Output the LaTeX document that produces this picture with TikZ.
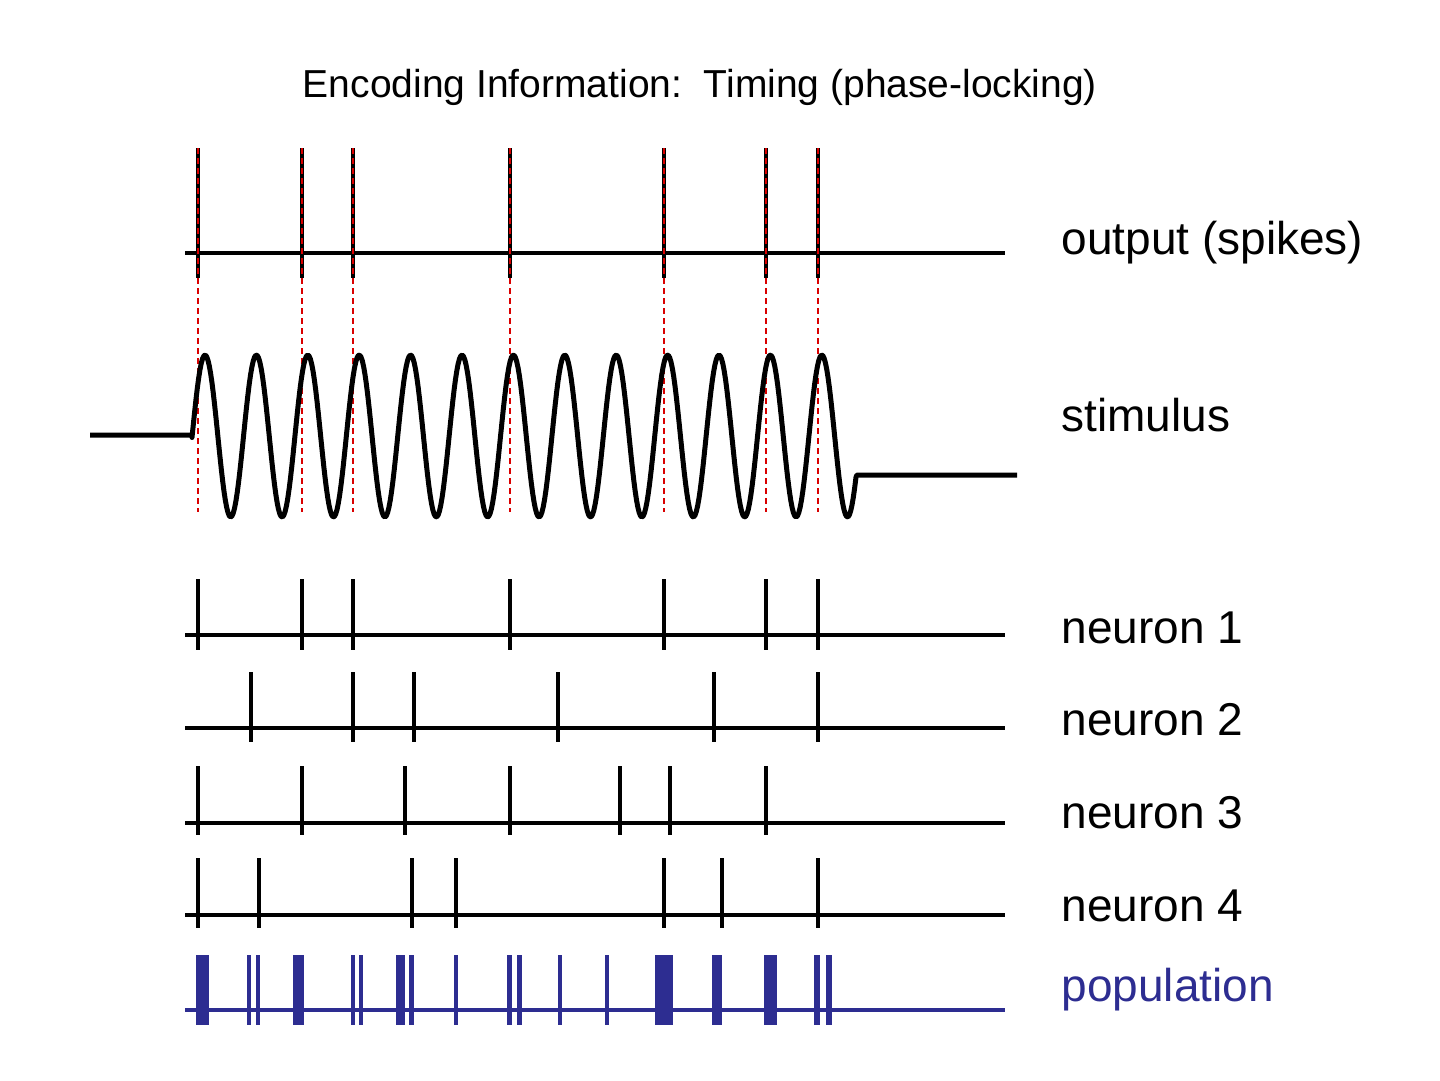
\documentclass[tikz,border=0pt]{standalone}
\usepackage{fontspec}
\setmainfont{Liberation Sans}
\begin{document}
\begin{tikzpicture}[x=1pt,y=-1pt,
  base/.style={line width=4pt},
  spk/.style={line width=3.5pt},
  reddash/.style={red!85!black,line width=2.2pt,dash pattern=on 6pt off 4pt},
  lbl/.style={anchor=west,font=\fontsize{46}{48}\selectfont},
  pop/.style={draw=popblue,fill=popblue,line width=1pt}]
\definecolor{popblue}{RGB}{45,45,145}
\useasboundingbox (0,0) rectangle (1440,1080);
\node[font=\fontsize{39}{41}\selectfont] (title) at (700,87) {Encoding Information:\ \ Timing (phase-locking)};
% output
\draw[base] (185,253) -- (1005,253);
\foreach \x in {198,302,353,510,664,766,818}{
  \draw[spk] (\x,148) -- (\x,278);
  \draw[reddash] (\x,148) -- (\x,512);
}
\node[lbl] (lout) at (1058,243) {output (spikes)};
% stimulus
\draw[line width=5pt,line join=round] (90,435) -- (192,435) -- plot[domain=192:856,samples=500] (\x,{436-81*cos(7.0039*(\x-205))}) -- (857,475) -- (1017,475);
\node[lbl] (lstim) at (1058,415) {stimulus};
% neurons
\draw[base] (185,635) -- (1005,635);
\foreach \x in {198,302,353,510,664,766,818} \draw[spk] (\x,579) -- (\x,650);
\node[lbl] (n1) at (1058,628) {neuron 1};
\draw[base] (185,728) -- (1005,728);
\foreach \x in {251,353,414,558,714,818} \draw[spk] (\x,672) -- (\x,742);
\node[lbl] (n2) at (1058,720) {neuron 2};
\draw[base] (185,823) -- (1005,823);
\foreach \x in {198,302,405,510,620,670,766} \draw[spk] (\x,766) -- (\x,835);
\node[lbl] (n3) at (1058,813) {neuron 3};
\draw[base] (185,915) -- (1005,915);
\foreach \x in {198,259,412,456,664,722,818} \draw[spk] (\x,858) -- (\x,928);
\node[lbl] (n4) at (1058,906) {neuron 4};
% population
\draw[line width=4.5pt,popblue] (185,1010) -- (1005,1010);
\foreach \a/\b in {196/209,247/251,256/260,293/304,351/355,359/363,396/405,409/414,507/512,517/522,655/673,712/722,764/777,814/820,826/832}
  \fill[popblue] (\a,955) rectangle (\b,1025);
\foreach \x in {456,560,607} \draw[popblue,line width=3.5pt] (\x,955) -- (\x,1025);
\node[lbl,text=popblue] (npop) at (1058,990) {population};
\end{tikzpicture}
\end{document}
